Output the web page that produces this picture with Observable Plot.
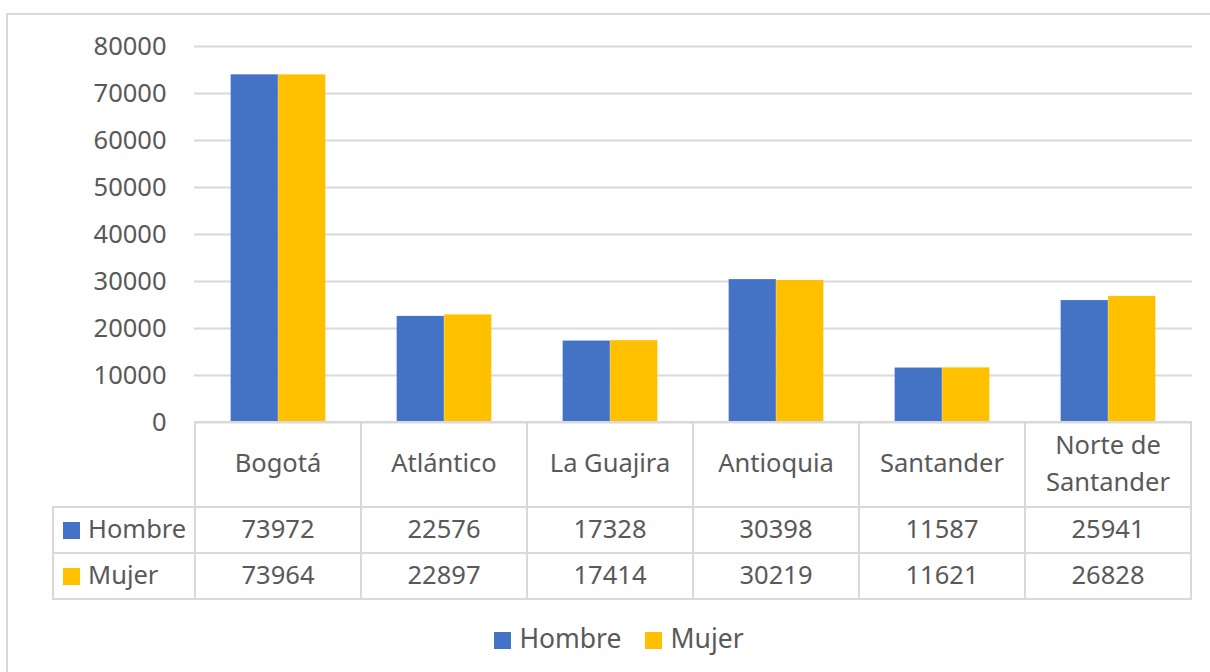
<!DOCTYPE html>
<html>
<head>
<meta charset="utf-8">
<script src="https://cdn.jsdelivr.net/npm/d3@7"></script>
<script src="https://cdn.jsdelivr.net/npm/@observablehq/plot@0.6"></script>
<style>
  html, body { margin: 0; padding: 0; background: #fff; }
  #wrap { position: relative; width: 1210px; height: 672px; overflow: hidden; background: #fff;
          font-family: "Noto Sans", sans-serif; color: #595959; }
  #frame { position: absolute; left: 6px; top: 13px; width: 1300px; height: 800px;
           border: 2px solid #d9d9d9; box-sizing: border-box; }
  #plot { position: absolute; left: 0; top: 0; }
  #tbl { position: absolute; border-collapse: collapse; table-layout: fixed; font-size: 25.5px; color: #595959; }
  #tbl td { border: 2px solid #d9d9d9; text-align: center; vertical-align: middle; padding: 0; line-height: 1.45; }
  #tbl tr.vals td { padding-bottom: 4px; }
  #tbl td.blank { border-top: none; border-left: none; }
  #tbl td.lab { text-align: left; padding-left: 9px; white-space: nowrap; }
  .sw { display: inline-block; width: 17px; height: 17px; margin-right: 8px; vertical-align: -1px; }
  #legend { position: absolute; left: 14px; width: 1210px; top: 620px; text-align: center; font-size: 26.5px; color: #595959; }
  #legend span.item { margin: 0 12px; white-space: nowrap; }
</style>
</head>
<body>
<div id="wrap">
  <div id="frame"></div>
  <div id="plot"></div>
  <table id="tbl"></table>
  <div id="legend"></div>
</div>
<script>
const categories = ["Bogotá", "Atlántico", "La Guajira", "Antioquia", "Santander", "Norte de Santander"];
const hombre = [73972, 22576, 17328, 30398, 11587, 25941];
const mujer = [73964, 22897, 17414, 30219, 11621, 26828];
const series = ["Hombre", "Mujer"];
const seriesValues = [hombre, mujer];
const colors = ["#4472C4", "#FFC000"];
const yTicks = [0, 10000, 20000, 30000, 40000, 50000, 60000, 70000, 80000];

const W = 1210, mL = 194, mR = 18, mT = 46, plotBottom = 422, mB = 24;
const bw = (W - mL - mR) / categories.length;
const barW = bw * 0.2857;
const outer = (bw - 2 * barW) / 2;

const rows = categories.map((c, i) => ({cat: c, h: hombre[i], m: mujer[i]}));

const plot = Plot.plot({
  width: W,
  height: plotBottom + mB,
  marginLeft: mL,
  marginRight: mR,
  marginTop: mT,
  marginBottom: mB,
  style: {fontFamily: "Noto Sans, sans-serif", fontSize: "25.5px", color: "#595959", background: "transparent"},
  x: {domain: categories, padding: 0, axis: null},
  y: {domain: [0, 80000], ticks: yTicks, tickFormat: d => String(d), tickSize: 0, tickPadding: 28, label: null},
  marks: [
    Plot.gridY(yTicks.filter(t => t > 0), {stroke: "#d9d9d9", strokeOpacity: 1, strokeWidth: 2}),
    Plot.barY(rows, {x: "cat", y: "h", fill: colors[0], insetLeft: outer, insetRight: outer + barW}),
    Plot.barY(rows, {x: "cat", y: "m", fill: colors[1], insetLeft: outer + barW, insetRight: outer}),
    Plot.ruleY([0], {stroke: "#d9d9d9", strokeWidth: 2})
  ]
});
document.getElementById("plot").appendChild(plot);

// Data table aligned to the x scale
const xs = plot.scale("x");
const [r0, r1] = xs.range;
const labelLeft = 52;
const tbl = document.getElementById("tbl");
tbl.style.left = labelLeft + "px";
tbl.style.top = (plotBottom - 1) + "px";
const colgroup = document.createElement("colgroup");
const c0 = document.createElement("col"); c0.style.width = (r0 - labelLeft) + "px"; colgroup.appendChild(c0);
categories.forEach(() => { const c = document.createElement("col"); c.style.width = xs.bandwidth + "px"; colgroup.appendChild(c); });
tbl.appendChild(colgroup);
tbl.style.width = (r1 - labelLeft) + "px";

const head = document.createElement("tr");
head.style.height = "85px";
const blank = document.createElement("td"); blank.className = "blank"; head.appendChild(blank);
categories.forEach(c => {
  const td = document.createElement("td");
  td.textContent = c;
  td.style.paddingBottom = "4px";
  head.appendChild(td);
});
tbl.appendChild(head);

series.forEach((s, si) => {
  const tr = document.createElement("tr");
  tr.className = "vals";
  tr.style.height = "46px";
  const lab = document.createElement("td"); lab.className = "lab";
  const sw = document.createElement("span"); sw.className = "sw"; sw.style.background = colors[si];
  lab.appendChild(sw); lab.appendChild(document.createTextNode(s));
  tr.appendChild(lab);
  seriesValues[si].forEach(v => {
    const td = document.createElement("td"); td.textContent = v; tr.appendChild(td);
  });
  tbl.appendChild(tr);
});

// Legend
const legend = document.getElementById("legend");
series.forEach((s, si) => {
  const it = document.createElement("span"); it.className = "item";
  const sw = document.createElement("span"); sw.className = "sw"; sw.style.background = colors[si];
  it.appendChild(sw); it.appendChild(document.createTextNode(s));
  legend.appendChild(it);
});
</script>
</body>
</html>
